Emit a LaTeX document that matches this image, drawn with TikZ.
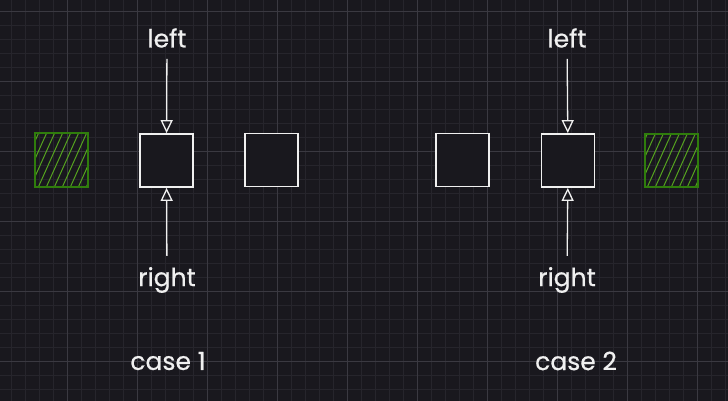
\documentclass[tikz,border=0pt]{standalone}
\usepackage{fontspec}
\setmainfont{Poppins}
\usetikzlibrary{arrows.meta}

\definecolor{bgdark}{HTML}{19181E}
\definecolor{gridminor}{HTML}{26252C}
\definecolor{gridmajor}{HTML}{3A3941}
\definecolor{inkwhite}{HTML}{F0F0F0}
\definecolor{leafgreen}{HTML}{2F7D0C}
\definecolor{hatchgreen}{HTML}{55A31F}

\tikzset{
    cell/.style={draw=inkwhite, line width=1.8pt, fill=bgdark, minimum size=53pt, inner sep=0pt},
    goal/.style={draw=leafgreen, line width=2pt, minimum size=53pt, inner sep=0pt},
    hatch/.style={hatchgreen, line width=1pt},
    lbl/.style={text=inkwhite, font=\fontsize{25}{28}\selectfont\addfontfeature{FakeBold=0.6}, inner sep=2pt},
    arr/.style={draw=inkwhite, line width=1.3pt, -{Triangle[open, length=13pt, width=12pt]}},
}

\begin{document}
\begin{tikzpicture}[x=1pt, y=-1pt]
    \useasboundingbox (0,0) rectangle (728,401);
    % Background and grid
    \fill[bgdark] (0,0) rectangle (728,401);
    \foreach \x in {11,25,...,725} \draw[gridminor, line width=0.6pt] (\x,0) -- (\x,401);
    \foreach \y in {11,25,...,399} \draw[gridminor, line width=0.6pt] (0,\y) -- (728,\y);
    \foreach \x in {67,137,...,697} \draw[gridmajor, line width=0.8pt] (\x,0) -- (\x,401);
    \foreach \y in {11,81,...,361} \draw[gridmajor, line width=0.8pt] (0,\y) -- (728,\y);

    % Case 1
    \node [goal] (g1) at (61.5,160) {};
    \begin{scope}
        \clip (35,133) rectangle (88,187);
        \foreach \h in {-30,-22,...,60} \draw[hatch] (\h+35,190) -- ++(27,-60);
    \end{scope}
    \node [goal] at (61.5,160) {};
    \node [cell] (a1) at (166.5,160.5) {};
    \node [cell] (b1) at (271.5,160) {};
    \node [lbl] (left1) at (167,38) {left};
    \node [lbl] (right1) at (167,280) {right};
    \draw [arr, shorten <=9pt] (left1) -- (a1);
    \draw [arr, shorten <=9pt] (right1) -- (a1);
    \node [lbl] (case1) at (168,361) {case 1};

    % Case 2
    \node [cell] (a2) at (462.5,160) {};
    \node [cell] (b2) at (568,160.5) {};
    \node [goal] (g2) at (671,160.5) {};
    \begin{scope}
        \clip (644,134) rectangle (698,187);
        \foreach \h in {-30,-22,...,60} \draw[hatch] (\h+644,190) -- ++(27,-60);
    \end{scope}
    \node [goal] at (671,160.5) {};
    \node [lbl] (left2) at (567,38) {left};
    \node [lbl] (right2) at (567,280) {right};
    \draw [arr, shorten <=9pt] (left2) -- (b2);
    \draw [arr, shorten <=9pt] (right2) -- (b2);
    \node [lbl] (case2) at (576,361) {case 2};
\end{tikzpicture}
\end{document}
